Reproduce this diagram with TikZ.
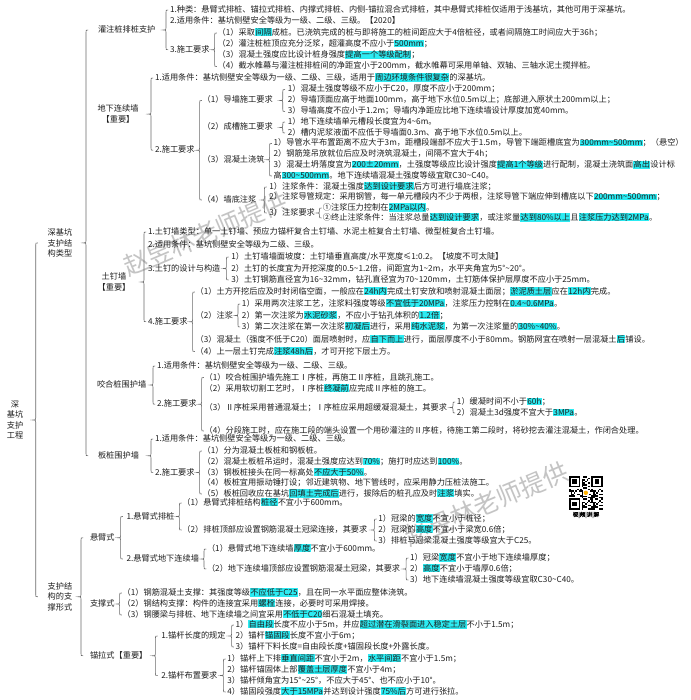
\documentclass[tikz,border=0pt]{standalone}
\usepackage{fontspec}
\setmainfont{Noto Sans CJK SC}
\newfontfamily\cjk{Noto Sans CJK SC}
\newfontfamily\cjkb[FakeBold=2]{Noto Sans CJK SC}
\usetikzlibrary{calc}
\definecolor{txt}{HTML}{1E1E1E}
\definecolor{hlc}{HTML}{2CEBF2}
\definecolor{brcol}{HTML}{6A6A6A}
\definecolor{wmcol}{HTML}{C4C4C4}
\newcommand\hl[1]{{\setlength{\fboxsep}{0.3pt}\colorbox{hlc}{#1}}}
\newcommand\tld{{\char"7E}}
\newcommand\fs{\cjk\fontsize{8.2}{10.6}\selectfont}
\tikzset{
  t/.style={anchor=west, inner sep=0pt, outer sep=0pt, font=\fs, text=txt, text height=6.6pt, text depth=1.6pt},
  mc/.style={anchor=center, inner sep=0pt, outer sep=0pt, font=\fs, text=txt, align=center},
  brc/.style={draw=brcol, line width=0.6pt},
  wm/.style={font=\cjk\fontsize{25}{25}\selectfont, text=wmcol, inner sep=0pt}
}
% child node placed right of its parent
\newcommand\kid[5]{\path (#2.east) ++(#3,0) coordinate (#1x); \node[t] (#1) at (#1x |- 0,#4) {#5};}
% curly brace: parent, first child, last child
\newcommand\mbr[4][4]{%
 \draw[brc] let \p1=(#3.west), \p2=(#4.west), \p3=(#2.east) in
 ({\x1-#1pt+2.2pt},\y1) .. controls ({\x1-#1pt},\y1) .. ({\x1-#1pt},{\y1-2.2pt})
 -- ({\x1-#1pt},{\y3+2.2pt}) .. controls ({\x1-#1pt},\y3) .. ({\x1-#1pt-2.8pt},\y3)
 .. controls ({\x1-#1pt},\y3) .. ({\x1-#1pt},{\y3-2.2pt})
 -- ({\x1-#1pt},{\y2+2.2pt}) .. controls ({\x1-#1pt},\y2) .. ({\x1-#1pt+2.2pt},\y2);}
\begin{document}
\begin{tikzpicture}[x=1pt,y=-1pt]
\useasboundingbox (0,0) rectangle (690,700);
\fill[white] (0,0) rectangle (690,700);
% watermarks
\node[wm, rotate=23] (wm1) at (205,234) {赵昱林老师提供};
\node[wm, rotate=23] (wm2) at (486,504) {赵昱林老师提供};

% root and first level
\node[mc] (R) at (15,420) {深\\基坑\\支护\\工程};
\node[mc] (L1) at (60,242.9) {深基坑\\支护结\\构类型};
\node[mc] (L2) at (60,596.75) {支护结\\构的支\\撑形式};
\mbr[12]{R}{L1}{L2}

% second level under L1
\node[t] (A) at (98,30) {灌注桩排桩支护};
\node[mc] (B) at (118,114.1) {地下连续墙\\【重要】};
\node[mc] (C) at (114,282) {土钉墙\\【重要】};
\node[t] (D) at (97,385) {咬合桩围护墙};
\node[t] (E) at (98,455.75) {板桩围护墙};
\mbr[12]{L1}{A}{E}

% A
\node[t] (A1) at (170,10) {1.种类：悬臂式排桩、锚拉式排桩、内撑式排桩、内侧-锚拉混合式排桩，其中悬臂式排桩仅适用于浅基坑，其他可用于深基坑。};
\node[t] (A2) at (170,21.5) {2.适用条件：基坑侧壁安全等级为一级、二级、三级。【2020】};
\node[t] (A3) at (170,49.75) {3.施工要求};
\mbr{A}{A1}{A3}
\kid{A31}{A3}{8}{33}{（1）采取\hl{间隔}成桩。已浇筑完成的桩与即将施工的桩间距应大于4倍桩径，或者间隔施工时间应大于36h；}
\kid{A32}{A3}{8}{44}{（2）灌注桩桩顶应充分泛浆，超灌高度不应小于\hl{500mm}；}
\kid{A33}{A3}{8}{55.5}{（3）混凝土强度应比设计桩身强度\hl{提高一个等级配制}；}
\kid{A34}{A3}{8}{66.5}{（4）截水帷幕与灌注桩排桩间的净距宜小于200mm，截水帷幕可采用单轴、双轴、三轴水泥土搅拌桩。}
\mbr[3]{A3}{A31}{A34}

% B
\node[t] (B1) at (155,78) {1.适用条件：基坑侧壁安全等级为一级、二级、三级，适用于\hl{周边环境条件很复杂}的深基坑。};
\node[t] (B2) at (155,150.25) {2.施工要求};
\mbr{B}{B1}{B2}
\kid{B21}{B2}{8}{100.5}{（1）导墙施工要求}
\kid{B22}{B2}{8}{127.5}{（2）成槽施工要求}
\kid{B23}{B2}{8}{159.75}{（3）混凝土浇筑}
\kid{B24}{B2}{8}{200}{（4）墙底注浆}
\mbr[3]{B2}{B21}{B24}
\kid{B211}{B21}{15}{89.5}{1）混凝土强度等级不应小于C20，厚度不应小于200mm；}
\kid{B212}{B21}{15}{100.5}{2）导墙顶面应高于地面100mm，高于地下水位0.5m以上；底部进入原状土200mm以上；}
\kid{B213}{B21}{15}{111.5}{3）导墙高度不应小于1.2m；导墙内净距应比地下连续墙设计厚度加宽40mm。}
\mbr[5]{B21}{B211}{B213}
\kid{B221}{B22}{15}{122}{1）地下连续墙单元槽段长度宜为4\tld 6m。}
\kid{B222}{B22}{15}{133}{2）槽内泥浆液面不应低于导墙面0.3m、高于地下水位0.5m以上。}
\mbr[5]{B22}{B221}{B222}
\kid{B231}{B23}{9}{143.5}{1）导管水平布置距离不应大于3m，距槽段端部不应大于1.5m，导管下端距槽底宜为\hl{300mm\tld 500mm}；（悬空）}
\kid{B232}{B23}{9}{154.5}{2）钢筋笼吊放就位后应及时浇筑混凝土，间隔不宜大于4h；}
\kid{B233}{B23}{9}{165.5}{3）混凝土坍落度宜为\hl{200±20mm}，土强度等级应比设计强度\hl{提高1个等级}进行配制，混凝土浇筑面\hl{高出}设计标}
\kid{B234}{B23}{9}{176}{高\hl{300\tld 500mm}。地下连续墙混凝土强度等级宜取C30\tld C40。}
\mbr{B23}{B231}{B234}
\kid{B241}{B24}{13}{187}{1）注浆条件：混凝土强度\hl{达到设计要求}后方可进行墙底注浆；}
\kid{B242}{B24}{13}{197.5}{2）注浆导管规定：采用钢管，每一单元槽段内不少于两根，注浆导管下端应伸到槽底以下\hl{200mm\tld 500mm}；}
\kid{B243}{B24}{13}{213}{3）注浆要求}
\mbr[5]{B24}{B241}{B243}
\kid{B2431}{B243}{8}{208}{①注浆压力控制在\hl{2MPa以内}。}
\kid{B2432}{B243}{8}{218}{②终止注浆条件：当注浆总量\hl{达到设计要求}，或注浆量\hl{达到80\%以上}且\hl{注浆压力达到2MPa}。}
\mbr[3.5]{B243}{B2431}{B2432}

% C
\node[t] (C1) at (148,232) {1.土钉墙类型：单一土钉墙、预应力锚杆复合土钉墙、水泥土桩复合土钉墙、微型桩复合土钉墙。};
\node[t] (C2) at (148,245) {2.适用条件：基坑侧壁安全等级为二级、三级。};
\node[t] (C3) at (148,268.5) {3.土钉的设计与构造};
\node[t] (C4) at (148,321.75) {4.施工要求};
\mbr{C}{C1}{C4}
\kid{C31}{C3}{11}{257}{1）土钉墙墙面坡度：土钉墙垂直高度/水平宽度≤1:0.2。【坡度不可太陡】}
\kid{C32}{C3}{11}{268.5}{2）土钉的长度宜为开挖深度的0.5\tld 1.2倍，间距宜为1\tld 2m，水平夹角宜为5°\tld 20°。}
\kid{C33}{C3}{11}{280}{3）土钉钢筋直径宜为16\tld 32mm，钻孔直径宜为70\tld 120mm，土钉筋体保护层厚度不应小于25mm。}
\mbr[5]{C3}{C31}{C33}
\kid{C41}{C4}{8}{292}{（1）土方开挖后应及时封闭临空面，一般应在\hl{24h内}完成土钉安放和喷射混凝土面层；\hl{淤泥质土层}应在\hl{12h内}完成。}
\kid{C42}{C4}{8}{315.5}{（2）注浆}
\kid{C43}{C4}{8}{340}{（3）混凝土（强度不低于C20）面层喷射时，应\hl{自下而上}进行，面层厚度不小于80mm。钢筋网宜在喷射一层混凝土\hl{后}铺设。}
\kid{C44}{C4}{8}{351.5}{（4）上一层土钉完成\hl{注浆48h后}，才可开挖下层土方。}
\mbr[3]{C4}{C41}{C44}
\kid{C421}{C42}{9}{304}{1）采用两次注浆工艺，注浆料强度等级\hl{不宜低于20MPa}，注浆压力控制在\hl{0.4\tld 0.6MPa}。}
\kid{C422}{C42}{9}{315.5}{2）第一次注浆为\hl{水泥砂浆}，不应小于钻孔体积的\hl{1.2倍}；}
\kid{C423}{C42}{9}{327}{3）第二次注浆在第一次注浆\hl{初凝后}进行，采用\hl{纯水泥浆}，为第一次注浆量的\hl{30\%\tld 40\%}。}
\mbr{C42}{C421}{C423}

% D
\node[t] (D1) at (157,366) {1.适用条件：基坑侧壁安全等级为一级、二级、三级。};
\node[t] (D2) at (157,404.25) {2.施工要求};
\mbr{D}{D1}{D2}
\kid{D21}{D2}{8}{377.5}{（1）咬合桩围护墙先施工Ⅰ序桩，再施工Ⅱ序桩，且跳孔施工。}
\kid{D22}{D2}{8}{389}{（2）采用软切割工艺时，Ⅰ序桩\hl{终凝前}应完成Ⅱ序桩的施工。}
\kid{D23}{D2}{8}{407.5}{（3）Ⅱ序桩采用普通混凝土；Ⅰ序桩应采用超缓凝混凝土，其要求}
\kid{D24}{D2}{8}{431}{（4）分段施工时，应在施工段的端头设置一个用砂灌注的Ⅱ序桩，待施工第二段时，将砂挖去灌注混凝土，作闭合处理。}
\mbr[3]{D2}{D21}{D24}
\kid{D231}{D23}{10}{402}{1）缓凝时间不小于\hl{60h}；}
\kid{D232}{D23}{10}{413}{2）混凝土3d强度不宜大于\hl{3MPa}。}
\mbr{D23}{D231}{D232}

% E
\node[t] (E1) at (155,439) {1.适用条件：基坑侧壁安全等级为一级、二级、三级。};
\node[t] (E2) at (155,472.5) {2.施工要求};
\mbr{E}{E1}{E2}
\kid{E21}{E2}{8}{451}{（1）分为混凝土板桩和钢板桩。}
\kid{E22}{E2}{8}{462}{（2）混凝土板桩吊运时，混凝土强度应达到\hl{70\%}；施打时应达到\hl{100\%}。}
\kid{E23}{E2}{8}{472.5}{（3）钢板桩接头在同一标高处\hl{不应大于50\%}。}
\kid{E24}{E2}{8}{483}{（4）板桩宜用振动锤打设；邻近建筑物、地下管线时，应采用静力压桩法施工。}
\kid{E25}{E2}{8}{494}{（5）板桩回收应在基坑\hl{回填土完成后}进行，拔除后的桩孔应及时\hl{注浆}填实。}
\mbr[3]{E2}{E21}{E25}

% F
\node[t] (F1) at (90,537.75) {悬臂式};
\node[t] (F2) at (90,604) {支撑式};
\node[t] (F3) at (90,655.75) {锚拉式【重要】};
\mbr[9]{L2}{F1}{F3}
\kid{F11}{F1}{12}{516.5}{1.悬臂式排桩}
\kid{F12}{F1}{12}{559}{2.悬臂式地下连续墙}
\mbr[6]{F1}{F11}{F12}
\kid{F111}{F11}{8}{503}{（1）悬臂式排桩结构\hl{桩径}不宜小于600mm。}
\kid{F112}{F11}{8}{530}{（2）排桩顶部应设置钢筋混凝土冠梁连接，其要求}
\mbr[3]{F11}{F111}{F112}
\kid{F1121}{F112}{11}{519}{1）冠梁的\hl{宽度}不宜小于桩径；}
\kid{F1122}{F112}{11}{530}{2）冠梁的\hl{高度}不宜小于梁宽0.6倍；}
\kid{F1123}{F112}{11}{541}{3）排桩与冠梁混凝土强度等级宜大于C25。}
\mbr{F112}{F1121}{F1123}
\kid{F121}{F12}{8}{549}{（1）悬臂式地下连续墙\hl{厚度}不宜小于600mm。}
\kid{F122}{F12}{8}{569}{（2）地下连续墙顶部应设置钢筋混凝土冠梁，其要求}
\mbr[3]{F12}{F121}{F122}
\kid{F1221}{F122}{10}{558}{1）冠梁\hl{宽度}不宜小于地下连续墙厚度；}
\kid{F1222}{F122}{10}{569}{2）\hl{高度}不宜小于墙厚0.6倍；}
\kid{F1223}{F122}{10}{580}{3）地下连续墙混凝土强度等级宜取C30\tld C40。}
\mbr{F122}{F1221}{F1223}
\kid{F21}{F2}{8}{593}{（1）钢筋混凝土支撑：其强度等级\hl{不应低于C25}，且在同一水平面应整体浇筑。}
\kid{F22}{F2}{8}{604}{（2）钢结构支撑：构件的连接宜采用\hl{螺栓}连接，必要时可采用焊接。}
\kid{F23}{F2}{8}{615}{（3）钢腰梁与排桩、地下连续墙之间宜采用\hl{不低于C20}细石混凝土填充。}
\mbr[3]{F2}{F21}{F23}
\kid{F31}{F3}{14}{636}{1.锚杆长度的规定}
\kid{F32}{F3}{14}{675.5}{2.锚杆布置要求}
\mbr[6]{F3}{F31}{F32}
\kid{F311}{F31}{10}{625}{1）\hl{自由段}长度不应小于5m，并应\hl{超过潜在滑裂面进入稳定土层}不小于1.5m；}
\kid{F312}{F31}{10}{636}{2）锚杆\hl{锚固段}长度不宜小于6m；}
\kid{F313}{F31}{10}{647}{3）锚杆下料长度=自由段长度+锚固段长度+外露长度。}
\mbr{F31}{F311}{F313}
\kid{F321}{F32}{10}{659}{1）锚杆上下排\hl{垂直间距}不宜小于2m，\hl{水平间距}不宜小于1.5m；}
\kid{F322}{F32}{10}{670}{2）锚杆锚固体上部\hl{覆盖土层厚度}不宜小于4m；}
\kid{F323}{F32}{10}{681}{3）锚杆倾角宜为15°\tld 25°，不应大于45°、也不应小于10°。}
\kid{F324}{F32}{10}{692}{4）锚固段强度\hl{大于15MPa}并达到设计强度\hl{75\%后}方可进行张拉。}
\mbr{F32}{F321}{F324}

% QR code
\begin{scope}[shift={(569,476)}]
  \foreach \i in {0,...,20}{\foreach \j in {0,...,20}{
    \pgfmathtruncatemacro\q{mod(\i*\i*3+\j*7+\i*\j*5+\j*\j*2+\i,7)}
    \ifnum\q<3\relax \fill[black] (\i*1.6,\j*1.6) rectangle ++(1.6,1.6);\fi}}
  \fill[white] (0,0) rectangle (12.8,12.8);
  \fill[white] (20.8,0) rectangle (33.6,12.8);
  \fill[white] (0,20.8) rectangle (12.8,33.6);
  \foreach \a/\b in {0/0,22.4/0,0/22.4}{
    \fill[black] (\a,\b) rectangle ++(11.2,11.2);
    \fill[white] (\a+1.6,\b+1.6) rectangle ++(8,8);
    \fill[black] (\a+3.2,\b+3.2) rectangle ++(4.8,4.8);}
  \fill[white] (13.6,13.6) rectangle ++(6.4,6.4);
  \fill[orange!60!yellow] (16.8,16.8) circle (2.2);
\end{scope}
\node[font=\cjkb\fontsize{5.5}{6}\selectfont, inner sep=0pt] (qrcap) at (586,515) {视|频|讲|解};
\end{tikzpicture}
\end{document}
